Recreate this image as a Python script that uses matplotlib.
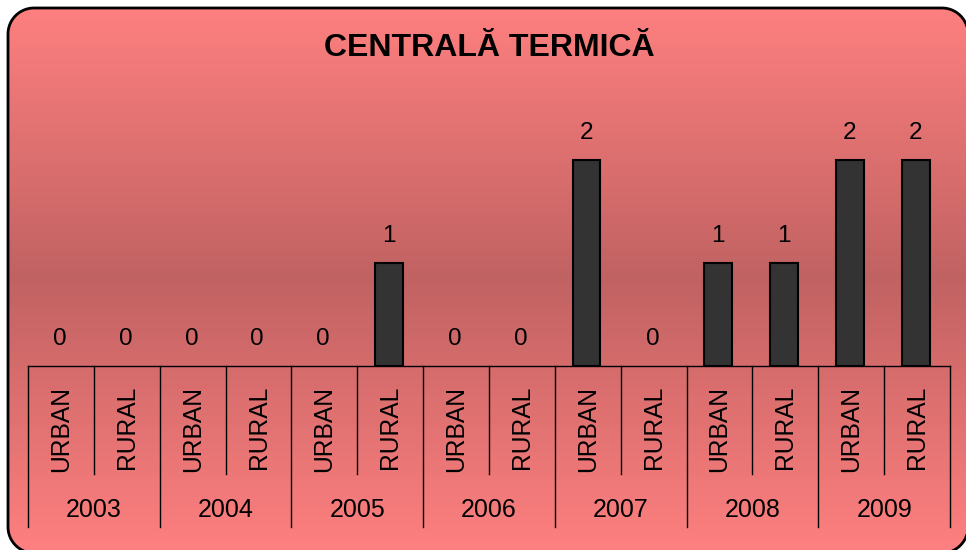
import numpy as np
from matplotlib import pyplot
from matplotlib.patches import Polygon
from matplotlib.transforms import blended_transform_factory

years = ["2003", "2004", "2005", "2006", "2007", "2008", "2009"]
areas = ["URBAN", "RURAL"]
urban = [0, 0, 0, 0, 2, 1, 2]
rural = [0, 0, 1, 0, 0, 1, 2]

BAR = "#333333"
TOP = np.array([255, 128, 128]) / 255
MID = np.array([193, 98, 98]) / 255
FONT = "Liberation Sans"

W, H = 966, 550
figure = pyplot.figure(figsize=(W / 100, H / 100), dpi=100)
figure.set_facecolor("white")

# background frame with vertical gradient (pixel coords, y up)
bg = figure.add_axes([0, 0, 1, 1])
bg.axis("off")
left, top, right, bottom = 8, 8, 968, 553
yt, yb = H - top, H - bottom
r = 26

# rounded rectangle as straight segments (bezier corners get clipped badly off-canvas)
def arc(cx, cy, a0, a1):
    a = np.radians(np.linspace(a0, a1, 20))
    return np.column_stack([cx + r * np.cos(a), cy + r * np.sin(a)])

pts = np.vstack([
    arc(right - r, yt - r, 0, 90),
    arc(left + r, yt - r, 90, 180),
    arc(left + r, yb + r, 180, 270),
    arc(right - r, yb + r, 270, 360),
])
frame = Polygon(pts, closed=True, facecolor="none", edgecolor="black",
                lw=2, zorder=3)
bg.add_patch(frame)

ys = np.linspace(top, bottom, 400)
center = 278
t = np.clip(np.abs(ys - center) / (bottom - center), 0, 1)[:, None]
colors = MID + (TOP - MID) * t
img = bg.imshow(colors[:, None, :], extent=(left, right, yb, yt),
                aspect="auto", interpolation="bilinear", zorder=1)
img.set_clip_path(frame)
# imshow resets the limits, so set them afterwards
bg.set_xlim(0, W)
bg.set_ylim(0, H)

figure.text(489 / W, 1 - 48 / H, "CENTRALĂ TERMICĂ", fontsize=23,
            fontweight="bold", family=FONT, ha="center", va="center")

# main plot
values = []
labels = []
for u, rv in zip(urban, rural):
    values += [u, rv]
    labels += areas
x = np.arange(len(values))

base_px = 366
ymax = 2.5
unit_px = 103
ax_h = ymax * unit_px
axis = figure.add_axes([28 / W, (H - base_px) / H, 922 / W, ax_h / H])
axis.set_facecolor("none")
axis.bar(x - 0.02, values, width=0.42, color=BAR, edgecolor="black",
         lw=[1.5 if v else 0 for v in values])
axis.set_xlim(-0.5, len(values) - 0.5)
axis.set_ylim(0, ymax)
for s in ["top", "right", "left"]:
    axis.spines[s].set_visible(False)
axis.spines["bottom"].set_linewidth(1)
axis.spines["bottom"].set_zorder(3)
axis.set_xticks([])
axis.set_yticks([])

for xi, v in zip(x, values):
    axis.annotate(str(v), (xi - 0.02, v), xytext=(0, 19.5), textcoords="offset points",
                  ha="center", va="center", fontsize=17.5, family=FONT)

trans = blended_transform_factory(axis.transData, axis.transAxes)

def below(px):
    return -px / ax_h

for xi, lab in zip(x, labels):
    axis.text(xi, below(20), lab, rotation=90, ha="center", va="top",
              fontsize=17.7, family=FONT, transform=trans)

for i in range(len(values) + 1):
    xb = i - 0.5
    depth = 161 if i % 2 == 0 else 108
    axis.plot([xb, xb], [0, below(depth)], color="black", lw=1,
              transform=trans, clip_on=False)

for g, year in enumerate(years):
    axis.text(2 * g + 0.5, below(144), year, ha="center", va="center",
              fontsize=18, family=FONT, transform=trans)

figure.savefig("out.png", dpi=100)
